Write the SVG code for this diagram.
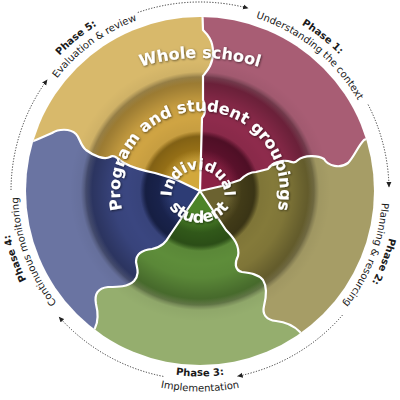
<svg xmlns="http://www.w3.org/2000/svg" width="400" height="400" viewBox="0 0 400 400">
<style>
.ring{font-family:"DejaVu Sans","Liberation Sans",sans-serif;font-weight:bold;fill:#fff;filter:url(#ts)}
.ph{font-family:"DejaVu Sans","Liberation Sans",sans-serif;font-size:10px;fill:#1a1a1a}
.phb{font-weight:bold}
.bd{fill:none;stroke:#fff;stroke-width:2.2;stroke-linejoin:round}
.dot{fill:none;stroke:#333;stroke-width:1;stroke-dasharray:1.2 1.6;marker-end:url(#ah)}
</style>
<defs>
<clipPath id="cc"><circle cx="200" cy="191" r="174"/></clipPath>
<filter id="ts" x="-20%" y="-20%" width="140%" height="140%"><feDropShadow dx="0.8" dy="0.8" stdDeviation="0.9" flood-color="#000" flood-opacity="0.6"/></filter>
<marker id="ah" markerWidth="6" markerHeight="6" refX="5" refY="3" orient="auto" markerUnits="userSpaceOnUse"><path d="M0,0.5 L5.5,3 L0,5.5 z" fill="#222"/></marker>
<radialGradient id="gGold" gradientUnits="userSpaceOnUse" cx="200" cy="191" r="174">
<stop offset="0" stop-color="#d2a83c"/><stop offset="0.17" stop-color="#d2a83c"/><stop offset="0.24" stop-color="#b98a1c"/><stop offset="0.31" stop-color="#b98a1c"/><stop offset="0.345" stop-color="#cfa443"/><stop offset="0.62" stop-color="#cfa443"/><stop offset="0.665" stop-color="#d8b96b"/><stop offset="1" stop-color="#d8b96b"/>
</radialGradient>
<radialGradient id="gMar" gradientUnits="userSpaceOnUse" cx="200" cy="191" r="174">
<stop offset="0" stop-color="#8a2244"/><stop offset="0.17" stop-color="#8a2244"/><stop offset="0.24" stop-color="#6f1535"/><stop offset="0.31" stop-color="#6f1535"/><stop offset="0.345" stop-color="#8e2b4c"/><stop offset="0.62" stop-color="#8e2b4c"/><stop offset="0.665" stop-color="#a85d74"/><stop offset="1" stop-color="#a85d74"/>
</radialGradient>
<radialGradient id="gOli" gradientUnits="userSpaceOnUse" cx="200" cy="191" r="174">
<stop offset="0" stop-color="#6b6230"/><stop offset="0.17" stop-color="#6b6230"/><stop offset="0.24" stop-color="#524a1e"/><stop offset="0.31" stop-color="#524a1e"/><stop offset="0.345" stop-color="#847a3a"/><stop offset="0.62" stop-color="#847a3a"/><stop offset="0.665" stop-color="#a69d66"/><stop offset="1" stop-color="#a69d66"/>
</radialGradient>
<radialGradient id="gGrn" gradientUnits="userSpaceOnUse" cx="200" cy="191" r="174">
<stop offset="0" stop-color="#4c8428"/><stop offset="0.17" stop-color="#4c8428"/><stop offset="0.24" stop-color="#3d6e20"/><stop offset="0.31" stop-color="#3d6e20"/><stop offset="0.345" stop-color="#5e8d3a"/><stop offset="0.62" stop-color="#5e8d3a"/><stop offset="0.665" stop-color="#95ae6e"/><stop offset="1" stop-color="#95ae6e"/>
</radialGradient>
<radialGradient id="gBlu" gradientUnits="userSpaceOnUse" cx="200" cy="191" r="174">
<stop offset="0" stop-color="#2d3c75"/><stop offset="0.17" stop-color="#2d3c75"/><stop offset="0.24" stop-color="#1f2b5e"/><stop offset="0.31" stop-color="#1f2b5e"/><stop offset="0.345" stop-color="#3a4680"/><stop offset="0.62" stop-color="#3a4680"/><stop offset="0.665" stop-color="#6a74a2"/><stop offset="1" stop-color="#6a74a2"/>
</radialGradient>
<radialGradient id="gSh" gradientUnits="userSpaceOnUse" cx="200" cy="191" r="174">
<stop offset="0" stop-color="#000" stop-opacity="0"/><stop offset="0.15" stop-color="#000" stop-opacity="0"/><stop offset="0.24" stop-color="#000" stop-opacity="0.2"/><stop offset="0.315" stop-color="#000" stop-opacity="0.3"/><stop offset="0.345" stop-color="#000" stop-opacity="0.04"/><stop offset="0.42" stop-color="#000" stop-opacity="0"/><stop offset="0.5" stop-color="#000" stop-opacity="0.04"/><stop offset="0.6" stop-color="#000" stop-opacity="0.22"/><stop offset="0.655" stop-color="#000" stop-opacity="0.3"/><stop offset="0.685" stop-color="#000" stop-opacity="0.04"/><stop offset="0.75" stop-color="#000" stop-opacity="0"/><stop offset="1" stop-color="#000" stop-opacity="0"/>
</radialGradient>
<path id="bA" d="M200,191 L202,118 C206,114 206,106 203,100 L203,76 C206,72 213,66 213,52 C213,40 207,34 203,30 L202,0"/>
<path id="bB" d="M200,191 L222,186 L240,180 C244,176 250,172 256,172 L268,169 C272,163 280,160 288,161 C292,162 294,164 298,160 C304,155 318,155 324,159 C328,166 340,169 348,163 C354,157 358,146 364,140 L385,130"/>
<path id="bC" d="M200,191 L226,230 C234,238 240,246 238,256 C235,262 234,270 242,272 C250,273 258,274 263,280 C268,288 266,298 264,306 C262,314 266,320 276,321 C286,322 294,326 300,332 L312,350"/>
<path id="bD" d="M200,191 L170,235 C166,242 162,247 152,249 C142,250 136,254 136,262 C137,268 140,274 134,281 C128,287 118,287 108,287 C98,288 94,294 96,304 C98,312 99,320 95,328 L85,346"/>
<path id="bE" d="M200,191 L175,179 L155,173 C145,171 133,168 124,163 C118,159 114,154 110,157 C104,160 94,156 86,150 C80,145 80,138 76,134 C70,128 58,129 52,133 L36,140 L15,148"/>
<path id="tWhole" d="M71,105 A200,200 0 0 1 329,105"/>
<path id="tProg" d="M160,260.3 A80,80 0 1 1 240,260.3"/>
<path id="tInd" d="M184.75,218.95 A26.5,26.5 0 1 1 211.25,218.95"/>
<path id="tStu" d="M163.5,180.75 A36,36 0 1 0 234.5,180.75"/>
<path id="p1a" d="M128.5,9.6 A195,195 0 0 1 392.9,219.8"/>
<path id="p1b" d="M134.8,21.1 A182,182 0 0 1 379.8,219.5"/>
<path id="p2a" d="M351.5,68.3 A195,195 0 0 1 230.5,383.6"/>
<path id="p2b" d="M341.4,76.5 A182,182 0 0 1 228.5,370.8"/>
<path id="p3a" d="M39.4,283.75 A185.5,185.5 0 0 0 360.6,283.75"/>
<path id="p3b" d="M26.4,291.25 A200.5,200.5 0 0 0 373.6,291.25"/>
<path id="p4a" d="M166.1,383 A195,195 0 0 1 50.6,65.7"/>
<path id="p4b" d="M168.4,370.2 A182,182 0 0 1 60.6,74"/>
<path id="p5a" d="M7.4,221.5 A195,195 0 0 1 269.9,8.9"/>
<path id="p5b" d="M19,210 A182,182 0 0 1 274,24.7"/>
</defs>

<g clip-path="url(#cc)">
<g id="sector-gold"><path fill="url(#gGold)" fill-rule="evenodd" d="M200,191 L-18.8,119.9 A230,230 0 0 1 200,-39 Z M200,191 L175,179 L155,173 C145,171 133,168 124,163 C118,159 114,154 110,157 C104,160 94,156 86,150 C80,145 80,138 76,134 C70,128 58,129 52,133 L36,140 L15,148 L-18.8,119.9 Z M200,191 L202,118 C206,114 206,106 203,100 L203,76 C206,72 213,66 213,52 C213,40 207,34 203,30 L202,0 L200,-39 Z"/></g>
<g id="sector-maroon"><path fill="url(#gMar)" fill-rule="evenodd" d="M200,191 L200,-39 A230,230 0 0 1 418.8,119.9 Z M200,191 L202,118 C206,114 206,106 203,100 L203,76 C206,72 213,66 213,52 C213,40 207,34 203,30 L202,0 L200,-39 Z M200,191 L222,186 L240,180 C244,176 250,172 256,172 L268,169 C272,163 280,160 288,161 C292,162 294,164 298,160 C304,155 318,155 324,159 C328,166 340,169 348,163 C354,157 358,146 364,140 L385,130 L418.8,119.9 Z"/></g>
<g id="sector-olive"><path fill="url(#gOli)" fill-rule="evenodd" d="M200,191 L418.8,119.9 A230,230 0 0 1 335.2,377.1 Z M200,191 L222,186 L240,180 C244,176 250,172 256,172 L268,169 C272,163 280,160 288,161 C292,162 294,164 298,160 C304,155 318,155 324,159 C328,166 340,169 348,163 C354,157 358,146 364,140 L385,130 L418.8,119.9 Z M200,191 L226,230 C234,238 240,246 238,256 C235,262 234,270 242,272 C250,273 258,274 263,280 C268,288 266,298 264,306 C262,314 266,320 276,321 C286,322 294,326 300,332 L312,350 L335.2,377.1 Z"/></g>
<g id="sector-green"><path fill="url(#gGrn)" fill-rule="evenodd" d="M200,191 L335.2,377.1 A230,230 0 0 1 64.8,377.1 Z M200,191 L226,230 C234,238 240,246 238,256 C235,262 234,270 242,272 C250,273 258,274 263,280 C268,288 266,298 264,306 C262,314 266,320 276,321 C286,322 294,326 300,332 L312,350 L335.2,377.1 Z M200,191 L170,235 C166,242 162,247 152,249 C142,250 136,254 136,262 C137,268 140,274 134,281 C128,287 118,287 108,287 C98,288 94,294 96,304 C98,312 99,320 95,328 L85,346 L64.8,377.1 Z"/></g>
<g id="sector-blue"><path fill="url(#gBlu)" fill-rule="evenodd" d="M200,191 L64.8,377.1 A230,230 0 0 1 -18.8,119.9 Z M200,191 L170,235 C166,242 162,247 152,249 C142,250 136,254 136,262 C137,268 140,274 134,281 C128,287 118,287 108,287 C98,288 94,294 96,304 C98,312 99,320 95,328 L85,346 L64.8,377.1 Z M200,191 L175,179 L155,173 C145,171 133,168 124,163 C118,159 114,154 110,157 C104,160 94,156 86,150 C80,145 80,138 76,134 C70,128 58,129 52,133 L36,140 L15,148 L-18.8,119.9 Z"/></g>
<circle cx="200" cy="191" r="174" fill="url(#gSh)"/>
<g id="boundaries">
<use href="#bA" class="bd"/><use href="#bB" class="bd"/><use href="#bC" class="bd"/><use href="#bD" class="bd"/><use href="#bE" class="bd"/>
</g>
</g>

<g id="ring-whole-school"><text class="ring" font-size="16"><textPath href="#tWhole" startOffset="50%" text-anchor="middle">Whole school</textPath></text></g>
<g id="ring-program"><text class="ring" font-size="16"><textPath href="#tProg" startOffset="50%" text-anchor="middle">Program and student groupings</textPath></text></g>
<g id="ring-individual">
<text class="ring" font-size="15"><textPath href="#tInd" startOffset="50%" text-anchor="middle">Individual</textPath></text>
<text class="ring" font-size="16"><textPath href="#tStu" startOffset="50%" text-anchor="middle">student</textPath></text>
</g>

<g id="phase1"><text class="ph phb"><textPath href="#p1a" startOffset="50%" text-anchor="middle">Phase 1:</textPath></text><text class="ph"><textPath href="#p1b" startOffset="50%" text-anchor="middle">Understanding the context</textPath></text></g>
<g id="phase2"><text class="ph phb"><textPath href="#p2a" startOffset="50%" text-anchor="middle">Phase 2:</textPath></text><text class="ph"><textPath href="#p2b" startOffset="50%" text-anchor="middle">Planning &amp; resourcing</textPath></text></g>
<g id="phase3"><text class="ph phb"><textPath href="#p3a" startOffset="50%" text-anchor="middle">Phase 3:</textPath></text><text class="ph"><textPath href="#p3b" startOffset="50%" text-anchor="middle">Implementation</textPath></text></g>
<g id="phase4"><text class="ph phb"><textPath href="#p4a" startOffset="50%" text-anchor="middle">Phase 4:</textPath></text><text class="ph"><textPath href="#p4b" startOffset="50%" text-anchor="middle">Continuous monitoring</textPath></text></g>
<g id="phase5"><text class="ph phb"><textPath href="#p5a" startOffset="50%" text-anchor="middle">Phase 5:</textPath></text><text class="ph"><textPath href="#p5b" startOffset="50%" text-anchor="middle">Evaluation &amp; review</textPath></text></g>

<g id="connectors">
<path class="dot" d="M137.8,12.5 A189,189 0 0 1 248,8.2"/>
<path class="dot" d="M368.1,104.6 A189,189 0 0 1 389,187"/>
<path class="dot" d="M342.6,315 A189,189 0 0 1 237.7,376.2"/>
<path class="dot" d="M163.3,376.4 A189,189 0 0 1 59.1,317"/>
<path class="dot" d="M11,190 A189,189 0 0 1 47.1,79.9"/>
</g>
</svg>
